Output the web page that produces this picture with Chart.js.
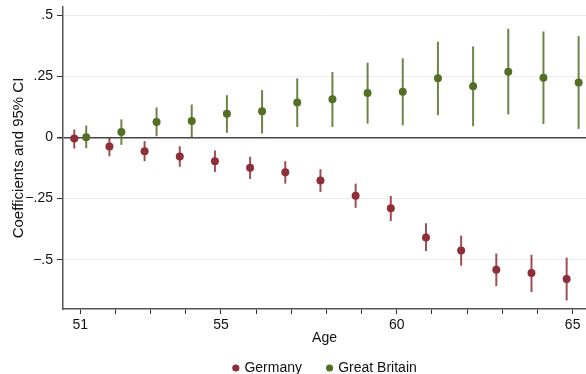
<!DOCTYPE html>
<html>
<head>
<meta charset="utf-8">
<script src="https://cdn.jsdelivr.net/npm/chart.js@4/dist/chart.umd.min.js"></script>
<style>
  html, body { margin: 0; padding: 0; background: #ffffff; }
  #wrap { width: 586px; height: 374px; }
</style>
</head>
<body>
<div id="wrap"><canvas id="chart" width="586" height="374"></canvas></div>
<script>
// Age-specific coefficients with 95% confidence intervals
const ages = [51, 52, 53, 54, 55, 56, 57, 58, 59, 60, 61, 62, 63, 64, 65];

const germanyCoef = [-0.004, -0.037, -0.056, -0.078, -0.097, -0.124, -0.142, -0.176, -0.238, -0.290, -0.409, -0.463, -0.541, -0.555, -0.579];
const germanyLow  = [-0.045, -0.077, -0.097, -0.120, -0.141, -0.170, -0.189, -0.223, -0.288, -0.342, -0.465, -0.525, -0.608, -0.633, -0.667];
const germanyHigh = [ 0.033,  0.002, -0.015, -0.036, -0.053, -0.079, -0.097, -0.130, -0.189, -0.239, -0.351, -0.402, -0.475, -0.480, -0.492];

const britainCoef = [0.001, 0.022, 0.063, 0.067, 0.097, 0.107, 0.143, 0.156, 0.182, 0.187, 0.242, 0.210, 0.269, 0.244, 0.225];
const britainLow  = [-0.044, -0.030, 0.005, 0.002, 0.019, 0.016, 0.043, 0.043, 0.057, 0.050, 0.091, 0.046, 0.094, 0.055, 0.035];
const britainHigh = [0.049, 0.074, 0.123, 0.135, 0.173, 0.194, 0.242, 0.268, 0.306, 0.324, 0.392, 0.373, 0.445, 0.434, 0.415];

// Axis ticks
const xTickValues = [51, 52, 53, 54, 55, 56, 57, 58, 59, 60, 61, 62, 63, 64, 65];
const xLabelled   = [51, 55, 60, 65];
const yTickValues = [-0.5, -0.25, 0, 0.25, 0.5];
const yTickLabels = ['\u2212.5', '\u2212.25', '0', '.25', '.5'];

const seriesNames = ['Germany', 'Great Britain'];

const RED = '#8e2f38';
const GREEN = '#536f26';
const RED_CI = 'rgba(142,47,56,0.85)';
const GREEN_CI = 'rgba(83,111,38,0.85)';
const DODGE = 0.17;   // horizontal offset so the two countries sit side by side
const FONT = '"Liberation Sans", Arial, Helvetica, sans-serif';

function buildPoints(coef, low, high, shift) {
  return ages.map((a, i) => ({ x: a + shift, y: coef[i], lo: low[i], hi: high[i] }));
}

// Vertical confidence-interval spikes, drawn under the markers
const ciSpikes = {
  id: 'ciSpikes',
  beforeDatasetsDraw(chart) {
    const { ctx, scales: { x, y } } = chart;
    ctx.save();
    chart.data.datasets.forEach(ds => {
      ctx.strokeStyle = ds.ciColor;
      ctx.lineWidth = 2;
      ds.data.forEach(p => {
        const px = x.getPixelForValue(p.x);
        ctx.beginPath();
        ctx.moveTo(px, y.getPixelForValue(p.lo));
        ctx.lineTo(px, y.getPixelForValue(p.hi));
        ctx.stroke();
      });
    });
    ctx.restore();
  }
};

// Legend row centred under the plot area
const bottomLegend = {
  id: 'bottomLegend',
  afterDraw(chart) {
    const { ctx, chartArea } = chart;
    const r = 3.6, gap = 5, spacing = 24;
    const rowY = 368;
    ctx.save();
    ctx.font = '14px ' + FONT;
    ctx.textBaseline = 'middle';
    const items = chart.data.datasets.map(ds => ({
      label: ds.label, color: ds.backgroundColor, w: ctx.measureText(ds.label).width
    }));
    const total = items.reduce((s, it) => s + 2 * r + gap + it.w, 0) + spacing * (items.length - 1);
    let cx = (chartArea.left + chartArea.right) / 2 - total / 2;
    items.forEach(it => {
      ctx.fillStyle = it.color;
      ctx.beginPath();
      ctx.arc(cx + r, rowY, r, 0, Math.PI * 2);
      ctx.fill();
      ctx.fillStyle = '#111111';
      ctx.fillText(it.label, cx + 2 * r + gap, rowY);
      cx += 2 * r + gap + it.w + spacing;
    });
    ctx.restore();
  }
};

Chart.defaults.font.family = FONT;
Chart.defaults.font.size = 14;
Chart.defaults.color = '#111111';

new Chart(document.getElementById('chart'), {
  type: 'scatter',
  data: {
    datasets: [
      {
        label: seriesNames[0],
        data: buildPoints(germanyCoef, germanyLow, germanyHigh, -DODGE),
        backgroundColor: RED,
        borderColor: RED,
        pointRadius: 4,
        pointBorderWidth: 0,
        ciColor: RED_CI
      },
      {
        label: seriesNames[1],
        data: buildPoints(britainCoef, britainLow, britainHigh, DODGE),
        backgroundColor: GREEN,
        borderColor: GREEN,
        pointRadius: 4,
        pointBorderWidth: 0,
        ciColor: GREEN_CI
      }
    ]
  },
  options: {
    responsive: false,
    animation: false,
    devicePixelRatio: 1,
    layout: { autoPadding: false, padding: { top: 7, right: 0, bottom: 21, left: 0 } },
    plugins: {
      legend: { display: false },
      tooltip: { enabled: false }
    },
    scales: {
      x: {
        type: 'linear',
        min: 50.51,
        max: 65.38,
        afterBuildTicks(scale) {
          scale.ticks = xTickValues.map(v => ({ value: v }));
        },
        afterFit(scale) {
          scale.height = 44;
          scale.paddingLeft = 0;
          scale.paddingRight = 0;
        },
        ticks: {
          autoSkip: false,
          maxRotation: 0,
          padding: 3,
          callback: v => (xLabelled.includes(v) ? String(v) : '')
        },
        grid: {
          drawOnChartArea: false,
          drawTicks: true,
          tickLength: 5,
          tickColor: '#333333',
          tickWidth: 1
        },
        border: { color: '#555555', width: 1.5 },
        title: {
          display: true,
          text: 'Age',
          font: { size: 14 },
          color: '#111111',
          padding: { top: 0, bottom: 6 }
        }
      },
      y: {
        type: 'linear',
        min: -0.702,
        max: 0.534,
        afterBuildTicks(scale) {
          scale.ticks = yTickValues.map(v => ({ value: v }));
        },
        afterFit(scale) {
          scale.width = 63;
          scale.paddingTop = 0;
          scale.paddingBottom = 0;
        },
        ticks: {
          autoSkip: false,
          padding: 4,
          callback: v => yTickLabels[yTickValues.indexOf(v)]
        },
        grid: {
          drawTicks: true,
          tickLength: 6,
          tickColor: '#333333',
          color: ctx => (ctx.tick && ctx.tick.value === 0 ? '#444444' : '#ebebeb'),
          lineWidth: ctx => (ctx.tick && ctx.tick.value === 0 ? 1.5 : 1)
        },
        border: { color: '#555555', width: 1.5 },
        title: {
          display: true,
          text: 'Coefficients and 95% CI',
          font: { size: 15 },
          color: '#111111',
          padding: { top: 10, bottom: 0 }
        }
      }
    }
  },
  plugins: [ciSpikes, bottomLegend]
});
</script>
</body>
</html>
